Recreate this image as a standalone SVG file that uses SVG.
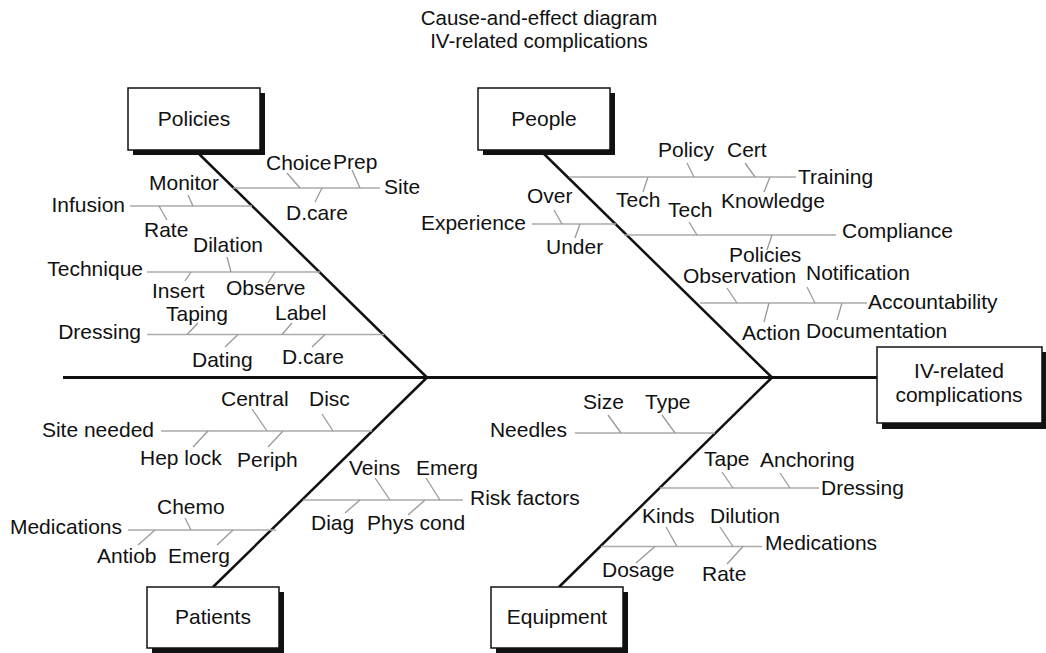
<svg xmlns="http://www.w3.org/2000/svg" width="1046" height="653" viewBox="0 0 1046 653">
  <style>
    text { font-family: "Liberation Sans", Arial, sans-serif; font-size: 21px; fill: #111; }
    .title { font-size: 20.5px; }
    .end { text-anchor: end; }
    .mid { text-anchor: middle; }
    .spine { stroke: #111; stroke-width: 3; fill: none; }
    .bone { stroke: #111; stroke-width: 2.5; fill: none; }
    .rib { stroke: #aaa; stroke-width: 1.6; fill: none; }
    .tick { stroke: #999; stroke-width: 1.3; fill: none; }
    .box { fill: #fff; stroke: #111; stroke-width: 1.5; }
    .shadow { fill: #111; }
  </style>

  <!-- title -->
  <text class="mid title" x="539" y="24.5">Cause-and-effect diagram</text>
  <text class="mid title" x="539" y="47.5">IV-related complications</text>

  <!-- spine, bones, ribs and ticks -->
  <g id="connectors">
    <line class="spine" x1="63" y1="377.5" x2="877" y2="377.5"/>
    <line class="bone" x1="195" y1="150" x2="427" y2="377.5"/>
    <line class="bone" x1="540" y1="150" x2="772" y2="377.5"/>
    <line class="bone" x1="427" y1="377.5" x2="213" y2="587"/>
    <line class="bone" x1="772" y1="377.5" x2="559" y2="587"/>

    <!-- Policies ribs -->
    <line class="rib" x1="233" y1="188" x2="380" y2="188"/>
    <line class="tick" x1="287" y1="173" x2="300" y2="188"/>
    <line class="tick" x1="352" y1="170" x2="360" y2="188"/>
    <line class="tick" x1="322" y1="188" x2="315" y2="202"/>

    <line class="rib" x1="130" y1="206" x2="252" y2="206"/>
    <line class="tick" x1="188" y1="195" x2="193" y2="206"/>
    <line class="tick" x1="159" y1="206" x2="167" y2="220"/>

    <line class="rib" x1="147" y1="272" x2="320" y2="272"/>
    <line class="tick" x1="227" y1="257" x2="231" y2="272"/>
    <line class="tick" x1="191" y1="272" x2="185" y2="281"/>
    <line class="tick" x1="275" y1="272" x2="268" y2="283"/>

    <line class="rib" x1="147" y1="334.5" x2="384" y2="334.5"/>
    <line class="tick" x1="198" y1="323" x2="187" y2="334.5"/>
    <line class="tick" x1="292" y1="323" x2="282" y2="334.5"/>
    <line class="tick" x1="238" y1="334.5" x2="225" y2="347"/>
    <line class="tick" x1="325" y1="334.5" x2="312" y2="347"/>

    <!-- People ribs -->
    <line class="rib" x1="569" y1="177" x2="796" y2="177"/>
    <line class="tick" x1="687" y1="163" x2="694" y2="177"/>
    <line class="tick" x1="745" y1="163" x2="755" y2="177"/>
    <line class="tick" x1="648" y1="177" x2="643" y2="192"/>
    <line class="tick" x1="770" y1="177" x2="764" y2="192"/>

    <line class="rib" x1="532" y1="224" x2="616" y2="224"/>
    <line class="tick" x1="554" y1="210" x2="562" y2="224"/>
    <line class="tick" x1="580" y1="224" x2="575" y2="238"/>

    <line class="rib" x1="624" y1="235" x2="836" y2="235"/>
    <line class="tick" x1="689" y1="222" x2="697" y2="235"/>
    <line class="tick" x1="772" y1="235" x2="767" y2="250"/>

    <line class="rib" x1="700" y1="303" x2="867" y2="303"/>
    <line class="tick" x1="727" y1="288" x2="737" y2="303"/>
    <line class="tick" x1="807" y1="287" x2="815" y2="303"/>
    <line class="tick" x1="769" y1="303" x2="764" y2="322"/>
    <line class="tick" x1="842" y1="303" x2="837" y2="320"/>

    <!-- Patients ribs -->
    <line class="rib" x1="161" y1="431" x2="372" y2="431"/>
    <line class="tick" x1="252" y1="409" x2="267" y2="431"/>
    <line class="tick" x1="322" y1="414" x2="333" y2="431"/>
    <line class="tick" x1="208" y1="431" x2="193" y2="447"/>
    <line class="tick" x1="283" y1="431" x2="268" y2="447"/>

    <line class="rib" x1="303" y1="500" x2="463" y2="500"/>
    <line class="tick" x1="375" y1="478" x2="390" y2="500"/>
    <line class="tick" x1="426" y1="478" x2="440" y2="500"/>
    <line class="tick" x1="360" y1="500" x2="345" y2="513"/>
    <line class="tick" x1="425" y1="500" x2="408" y2="515"/>

    <line class="rib" x1="128" y1="530" x2="276" y2="530"/>
    <line class="tick" x1="185" y1="518" x2="191" y2="530"/>
    <line class="tick" x1="155" y1="530" x2="138" y2="545"/>
    <line class="tick" x1="233" y1="530" x2="217" y2="545"/>

    <!-- Equipment ribs -->
    <line class="rib" x1="575" y1="433" x2="715" y2="433"/>
    <line class="tick" x1="608" y1="415" x2="621" y2="433"/>
    <line class="tick" x1="662" y1="415" x2="675" y2="433"/>

    <line class="rib" x1="660" y1="488" x2="819" y2="488"/>
    <line class="tick" x1="722" y1="472" x2="733" y2="488"/>
    <line class="tick" x1="780" y1="473" x2="790" y2="488"/>

    <line class="rib" x1="601" y1="546.5" x2="762" y2="546.5"/>
    <line class="tick" x1="666" y1="527" x2="677" y2="546.5"/>
    <line class="tick" x1="720" y1="527" x2="733" y2="546.5"/>
    <line class="tick" x1="655" y1="546.5" x2="636" y2="563"/>
    <line class="tick" x1="743" y1="546.5" x2="727" y2="564"/>
  </g>

  <!-- category boxes -->
  <g id="policies">
    <rect class="shadow" x="133" y="93" width="132" height="62"/>
    <rect class="box" x="128" y="88" width="132" height="62"/>
    <text class="mid" x="194" y="126">Policies</text>
  </g>
  <g id="people">
    <rect class="shadow" x="483" y="93" width="132" height="62"/>
    <rect class="box" x="478" y="88" width="132" height="62"/>
    <text class="mid" x="544" y="126">People</text>
  </g>
  <g id="patients">
    <rect class="shadow" x="152" y="592" width="132" height="62"/>
    <rect class="box" x="147" y="587" width="132" height="61"/>
    <text class="mid" x="213" y="624">Patients</text>
  </g>
  <g id="equipment">
    <rect class="shadow" x="496" y="592" width="132" height="62"/>
    <rect class="box" x="491" y="587" width="132" height="61"/>
    <text class="mid" x="557" y="624">Equipment</text>
  </g>
  <g id="effect">
    <rect class="shadow" x="882" y="352" width="165" height="77"/>
    <rect class="box" x="877" y="347" width="165" height="76"/>
    <text class="mid" x="959" y="378">IV-related</text>
    <text class="mid" x="959" y="402">complications</text>
  </g>

  <!-- Policies causes -->
  <g id="policies-causes">
    <text x="384" y="194">Site</text>
    <text x="266" y="170">Choice</text>
    <text x="333" y="169">Prep</text>
    <text x="286" y="220">D.care</text>
    <text class="end" x="125" y="212">Infusion</text>
    <text x="149" y="190">Monitor</text>
    <text x="144" y="237">Rate</text>
    <text class="end" x="143" y="276">Technique</text>
    <text x="193" y="252">Dilation</text>
    <text x="152" y="298">Insert</text>
    <text x="226" y="295">Observe</text>
    <text class="end" x="141" y="339">Dressing</text>
    <text x="166" y="321">Taping</text>
    <text x="275" y="320">Label</text>
    <text x="192" y="367">Dating</text>
    <text x="282" y="364">D.care</text>
  </g>

  <!-- People causes -->
  <g id="people-causes">
    <text x="798" y="184">Training</text>
    <text x="658" y="157">Policy</text>
    <text x="727" y="157">Cert</text>
    <text x="616" y="207">Tech</text>
    <text x="721" y="208">Knowledge</text>
    <text class="end" x="526" y="230">Experience</text>
    <text x="527" y="203">Over</text>
    <text x="546" y="254">Under</text>
    <text x="842" y="238">Compliance</text>
    <text x="668" y="217">Tech</text>
    <text x="729" y="262">Policies</text>
    <text x="868" y="309">Accountability</text>
    <text x="683" y="283">Observation</text>
    <text x="806" y="280">Notification</text>
    <text x="742" y="340">Action</text>
    <text x="806" y="338">Documentation</text>
  </g>

  <!-- Patients causes -->
  <g id="patients-causes">
    <text class="end" x="154" y="437">Site needed</text>
    <text x="221" y="406">Central</text>
    <text x="309" y="406">Disc</text>
    <text x="140" y="465">Hep lock</text>
    <text x="237" y="467">Periph</text>
    <text x="470" y="505">Risk factors</text>
    <text x="349" y="475">Veins</text>
    <text x="416" y="475">Emerg</text>
    <text x="311" y="530">Diag</text>
    <text x="367" y="530">Phys cond</text>
    <text class="end" x="122" y="534">Medications</text>
    <text x="157" y="514">Chemo</text>
    <text x="97" y="563">Antiob</text>
    <text x="168" y="563">Emerg</text>
  </g>

  <!-- Equipment causes -->
  <g id="equipment-causes">
    <text class="end" x="567" y="437">Needles</text>
    <text x="583" y="409">Size</text>
    <text x="645" y="409">Type</text>
    <text x="821" y="495">Dressing</text>
    <text x="704" y="466">Tape</text>
    <text x="760" y="467">Anchoring</text>
    <text x="765" y="550">Medications</text>
    <text x="642" y="523">Kinds</text>
    <text x="710" y="523">Dilution</text>
    <text x="602" y="577">Dosage</text>
    <text x="702" y="581">Rate</text>
  </g>
</svg>
